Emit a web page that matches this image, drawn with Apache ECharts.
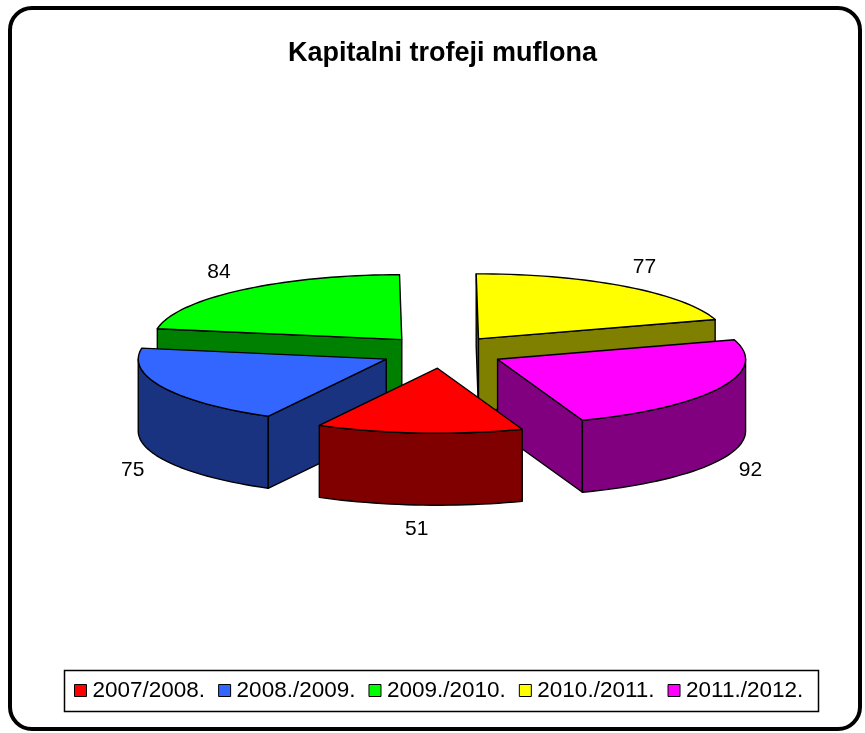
<!DOCTYPE html>
<html><head><meta charset="utf-8">
<script src="https://cdn.jsdelivr.net/npm/echarts@6/dist/echarts.min.js"></script>
<style>html,body{margin:0;padding:0;background:#fff}#chart{width:865px;height:733px}</style>
</head><body><div id="chart"></div>
<script>
const titleText = 'Kapitalni trofeji muflona';
const categories = ['2007/2008.', '2008./2009.', '2009./2010.', '2010./2011.', '2011./2012.'];
const values = [51, 75, 84, 77, 92];
const topColors = ['#FF0000', '#3366FF', '#00FF00', '#FFFF00', '#FF00FF'];
const sideColors = ['#800000', '#1A3380', '#008000', '#808000', '#800080'];

const FONT = '"Liberation Sans", Arial, sans-serif';
const total = values.reduce((a, b) => a + b, 0);
const GEO = { cx: 442, cy: 352, rx: 248, ry: 65, h: 72, explode: 0.25, start: 160 };
const rad = d => d * Math.PI / 180;

function sliceInfo(i) {
  let cum = 0;
  for (let k = 0; k < i; k++) cum += values[k];
  const a1 = GEO.start + cum / total * 360;
  const a2 = a1 + values[i] / total * 360;
  const mid = (a1 + a2) / 2;
  const ox = GEO.cx + GEO.explode * GEO.rx * Math.sin(rad(mid));
  const oy = GEO.cy - GEO.explode * GEO.ry * Math.cos(rad(mid));
  return { a1, a2, mid, ox, oy };
}
function pt(s, a, z) {
  return [s.ox + GEO.rx * Math.sin(rad(a)), s.oy - GEO.ry * Math.cos(rad(a)) + z];
}
function arc(s, from, to, z) {
  const n = Math.max(2, Math.ceil(Math.abs(to - from) / 2));
  const out = [];
  for (let j = 0; j <= n; j++) out.push(pt(s, from + (to - from) * j / n, z));
  return out;
}
function poly(points, fill) {
  return { type: 'polygon', shape: { points }, style: { fill, stroke: '#000', lineWidth: 1.4, lineJoin: 'round' } };
}

function renderSlice(i) {
  return function (params, api) {
    const val = api.value(0);
    const s = sliceInfo(i);
    const children = [];
    const apexT = [s.ox, s.oy], apexB = [s.ox, s.oy + GEO.h];
    if (Math.sin(rad(s.a1)) < 0) children.push(poly([apexT, pt(s, s.a1, 0), pt(s, s.a1, GEO.h), apexB], sideColors[i]));
    if (Math.sin(rad(s.a2)) > 0) children.push(poly([apexT, pt(s, s.a2, 0), pt(s, s.a2, GEO.h), apexB], sideColors[i]));
    for (let k = -1; k <= 1; k++) {
      const lo = Math.max(s.a1, 90 + 360 * k), hi = Math.min(s.a2, 270 + 360 * k);
      if (hi > lo) children.push(poly(arc(s, lo, hi, 0).concat(arc(s, hi, lo, GEO.h)), sideColors[i]));
    }
    children.push(poly([apexT].concat(arc(s, s.a1, s.a2, 0)), topColors[i]));
    const front = -Math.cos(rad(s.mid)) > 0;
    const base = pt(s, s.mid, front ? GEO.h : 0);
    children.push({
      type: 'text',
      style: {
        text: String(val),
        x: base[0] + Math.sin(rad(s.mid)) * 34,
        y: base[1] - Math.cos(rad(s.mid)) * 24,
        fill: '#000', font: '21px ' + FONT,
        textAlign: 'center', textVerticalAlign: 'middle'
      }
    });
    return { type: 'group', children };
  };
}

const depth = values.map((v, i) => -Math.cos(rad(sliceInfo(i).mid)));
const order = depth.map((d, i) => i).sort((a, b) => depth[a] - depth[b]);

const series = categories.map((name, i) => ({
  type: 'custom',
  name,
  coordinateSystem: 'none',
  renderItem: renderSlice(i),
  data: [[values[i]]],
  z: 2 + order.indexOf(i),
  itemStyle: { color: topColors[i] },
  silent: true,
  animation: false
}));

const chart = echarts.init(document.getElementById('chart'), null, { renderer: 'canvas' });
chart.setOption({
  backgroundColor: '#fff',
  animation: false,
  title: {
    text: titleText, left: 283, top: 35,
    textStyle: { fontSize: 27, fontWeight: 'bold', fontFamily: FONT, color: '#000' }
  },
  legend: {
    left: 74, top: 679, padding: 0,
    itemWidth: 12, itemHeight: 12, itemGap: 13, icon: 'rect',
    selectedMode: false,
    textStyle: { fontSize: 22.5, fontFamily: FONT, color: '#000', padding: [0, 0, 0, 1] },
    data: categories.map((c, i) => ({ name: c, itemStyle: { color: topColors[i], borderColor: '#000', borderWidth: 1 } }))
  },
  graphic: [
    { type: 'rect', shape: { x: 10, y: 8, width: 850, height: 721, r: 22 }, style: { fill: 'none', stroke: '#000', lineWidth: 4 }, silent: true },
    { type: 'rect', shape: { x: 64.5, y: 670.5, width: 754, height: 41 }, style: { fill: 'none', stroke: '#000', lineWidth: 1.5 }, silent: true }
  ],
  series
});
</script>
</body></html>
